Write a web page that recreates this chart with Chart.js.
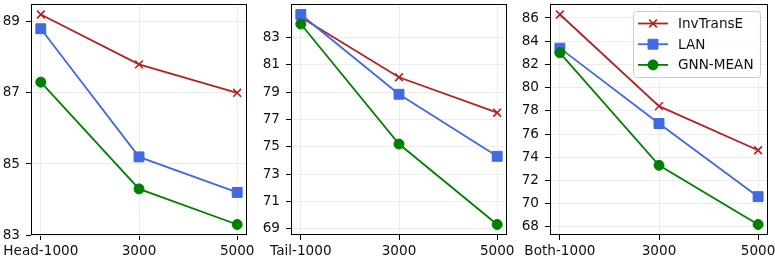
<!DOCTYPE html>
<html>
<head>
<meta charset="utf-8">
<script src="https://cdn.jsdelivr.net/npm/chart.js@4.4.0/dist/chart.umd.min.js"></script>
<style>
html, body { margin: 0; padding: 0; background: #fff; }
body { width: 775px; height: 257px; position: relative; overflow: hidden; }
canvas { position: absolute; top: 0; }
</style>
</head>
<body>
<canvas id="head" width="264" height="257" style="left:0px"></canvas>
<canvas id="tail" width="268" height="257" style="left:254px"></canvas>
<canvas id="both" width="262" height="257" style="left:513px"></canvas>
<script>
// valeurs
const xValues = [1000, 3000, 5000];
const seriesNames = ["InvTransE", "LAN", "GNN-MEAN"];

const headLabels = ["Head-1000", "3000", "5000"];
const headTicks = [83, 85, 87, 89];
const headInvTransE = [89.2, 87.8, 87.0];
const headLAN = [88.8, 85.2, 84.2];
const headGNN = [87.3, 84.3, 83.3];

const tailLabels = ["Tail-1000", "3000", "5000"];
const tailTicks = [69, 71, 73, 75, 77, 79, 81, 83];
const tailInvTransE = [84.5, 80.1, 77.5];
const tailLAN = [84.7, 78.85, 74.3];
const tailGNN = [84.0, 75.2, 69.3];

const bothLabels = ["Both-1000", "3000", "5000"];
const bothTicks = [68, 70, 72, 74, 76, 78, 80, 82, 84, 86];
const bothInvTransE = [86.3, 78.4, 74.6];
const bothLAN = [83.4, 76.9, 70.6];
const bothGNN = [83.0, 73.3, 68.2];

const FONT = { family: "'DejaVu Sans', sans-serif", size: 13.6 };
const styles = [
    { color: "#b22222", pointStyle: "crossRot", radius: 5.5, width: 1.6 },
    { color: "#4169e1", pointStyle: "rect", radius: 7, width: 1 },
    { color: "#008000", pointStyle: "circle", radius: 5, width: 1 }
];

function drawMarker(ctx, st, x, y) {
    ctx.save();
    ctx.strokeStyle = st.color;
    ctx.fillStyle = st.color;
    ctx.lineWidth = st.width;
    ctx.beginPath();
    if (st.pointStyle === "crossRot") {
        const o = st.radius * Math.SQRT1_2;
        ctx.moveTo(x - o, y - o); ctx.lineTo(x + o, y + o);
        ctx.moveTo(x - o, y + o); ctx.lineTo(x + o, y - o);
        ctx.stroke();
    } else if (st.pointStyle === "rect") {
        const s = st.radius * Math.SQRT1_2;
        ctx.rect(x - s, y - s, 2 * s, 2 * s);
        ctx.fill(); ctx.stroke();
    } else {
        ctx.arc(x, y, st.radius, 0, Math.PI * 2);
        ctx.fill(); ctx.stroke();
    }
    ctx.restore();
}

const framePlugin = {
    id: "frame",
    afterDraw(chart, args, opts) {
        const { ctx, chartArea: a } = chart;
        ctx.save();
        ctx.strokeStyle = "#000";
        ctx.lineWidth = 1;
        const l = Math.round(a.left) + 0.5, r = Math.round(a.right) - 0.5;
        const t = Math.round(a.top) + 0.5, b = Math.round(a.bottom) - 0.5;
        ctx.strokeRect(l, t, r - l, b - t);

        if (opts.legend) {
            const w = 127, h = 66;
            const bx = a.right - 8 - w, by = a.top + 7;
            ctx.fillStyle = "rgba(255,255,255,0.8)";
            ctx.strokeStyle = "#cccccc";
            ctx.beginPath();
            ctx.roundRect(bx + 0.5, by + 0.5, w, h, 3);
            ctx.fill(); ctx.stroke();
            ctx.font = `${FONT.size}px ${FONT.family}`;
            ctx.textBaseline = "middle";
            seriesNames.forEach((name, i) => {
                const st = styles[i];
                const y = by + 12.5 + i * 20.7;
                ctx.strokeStyle = st.color;
                ctx.lineWidth = 1.8;
                ctx.beginPath();
                ctx.moveTo(bx + 5, y); ctx.lineTo(bx + 35, y);
                ctx.stroke();
                drawMarker(ctx, st, bx + 20, y);
                ctx.fillStyle = "#111";
                ctx.fillText(name, bx + 45, y + 1);
            });
        }
        ctx.restore();
    }
};

function montarGrafico(id, labels, yTicks, series, yWidth, padRight, legend) {
    const all = series.flat();
    const lo = Math.min(...all), hi = Math.max(...all);
    const m = (hi - lo) * 0.05;
    return new Chart(document.getElementById(id), {
        type: "line",
        data: {
            datasets: series.map((vals, i) => ({
                label: seriesNames[i],
                data: vals.map((v, j) => ({ x: xValues[j], y: v })),
                borderColor: styles[i].color,
                backgroundColor: styles[i].color,
                borderWidth: 1.8,
                pointStyle: styles[i].pointStyle,
                pointRadius: styles[i].radius,
                pointBorderWidth: styles[i].width,
                tension: 0,
                order: 3 - i
            }))
        },
        options: {
            responsive: false,
            animation: false,
            devicePixelRatio: 1,
            events: [],
            layout: { autoPadding: false, padding: { top: 4, right: padRight, left: 0, bottom: 0 } },
            plugins: {
                legend: { display: false },
                tooltip: { enabled: false },
                frame: { legend: legend }
            },
            scales: {
                x: {
                    type: "linear",
                    min: 800,
                    max: 5200,
                    afterBuildTicks: s => { s.ticks = xValues.map(v => ({ value: v })); },
                    afterFit: s => { s.height = 22; s.paddingLeft = 0; s.paddingRight = 0; },
                    ticks: {
                        autoSkip: false, maxRotation: 0, padding: 3,
                        color: "#111", font: FONT,
                        callback: (v, i) => labels[i]
                    },
                    grid: { color: "#ececec", tickColor: "#000", tickLength: 5 },
                    border: { display: false }
                },
                y: {
                    min: lo - m,
                    max: hi + m,
                    afterBuildTicks: s => { s.ticks = yTicks.map(v => ({ value: v })); },
                    afterFit: s => { s.width = yWidth; s.paddingTop = 0; s.paddingBottom = 0; },
                    ticks: { padding: 6, color: "#111", font: FONT, callback: v => v },
                    grid: { color: "#ececec", tickColor: "#000", tickLength: 5 },
                    border: { display: false }
                }
            }
        },
        plugins: [framePlugin]
    });
}

montarGrafico("head", headLabels, headTicks, [headInvTransE, headLAN, headGNN], 31, 17, false);
montarGrafico("tail", tailLabels, tailTicks, [tailInvTransE, tailLAN, tailGNN], 37, 15, false);
montarGrafico("both", bothLabels, bothTicks, [bothInvTransE, bothLAN, bothGNN], 37, 7, true);
</script>
</body>
</html>
